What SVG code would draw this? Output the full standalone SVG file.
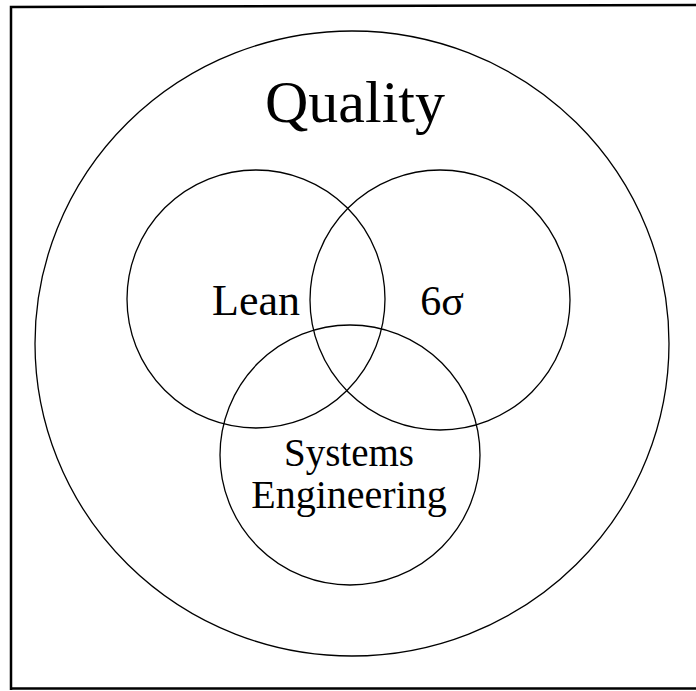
<svg xmlns="http://www.w3.org/2000/svg" width="696" height="691" viewBox="0 0 696 691">
<style>
.c{fill:none;stroke:#000;stroke-width:1.3}
.t{font-family:"Liberation Serif","Times New Roman",serif;fill:#000;text-anchor:middle}
</style>
<rect width="696" height="691" fill="#fff"/>
<path d="M11,690 L11,7 L696,5" fill="none" stroke="#000" stroke-width="2.5"/>
<line x1="11" y1="688.5" x2="696" y2="688.5" stroke="#000" stroke-width="2.5"/>
<g id="quality">
<ellipse class="c" cx="352" cy="343.5" rx="317" ry="312.5"/>
<text class="t" x="355" y="122" font-size="60">Quality</text>
</g>
<g id="lean">
<circle class="c" cx="256" cy="299" r="129"/>
<text class="t" x="256" y="315" font-size="44">Lean</text>
</g>
<g id="sixsigma">
<circle class="c" cx="440" cy="300" r="130"/>
<text class="t" x="442" y="315" font-size="42">6σ</text>
</g>
<g id="systems">
<circle class="c" cx="350" cy="455" r="130"/>
<text class="t" x="349" y="466" font-size="39">Systems</text>
<text class="t" x="349" y="508" font-size="40">Engineering</text>
</g>
<g id="connectors"></g>
</svg>
